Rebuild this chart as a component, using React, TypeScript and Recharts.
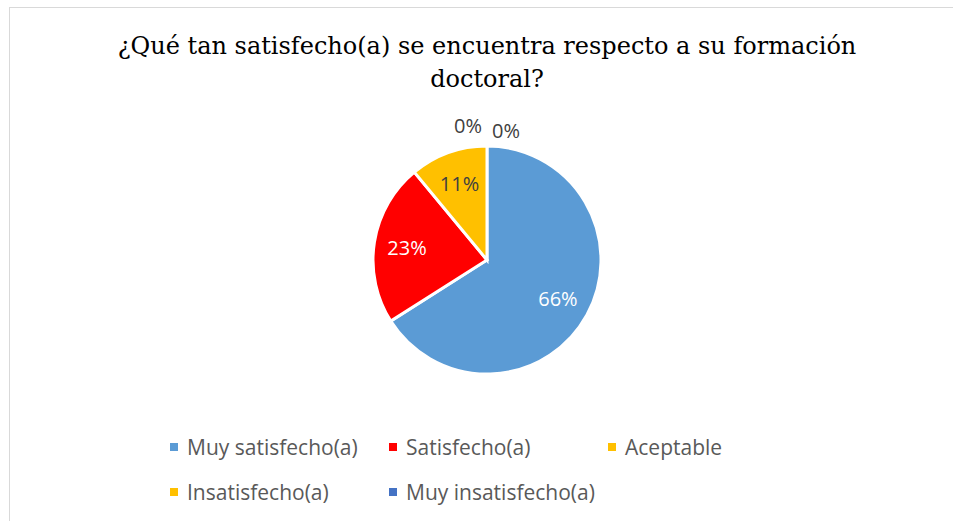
import React from 'react';
import { PieChart, Pie, Cell, Legend } from 'recharts';

const categories = ['Muy satisfecho(a)', 'Satisfecho(a)', 'Aceptable', 'Insatisfecho(a)', 'Muy insatisfecho(a)'];
const values = [66, 23, 11, 0, 0];
const colors = ['#5B9BD5', '#FF0000', '#FFC000', '#FFC000', '#4472C4'];
const labelColors = ['#FFFFFF', '#FFFFFF', '#404040', '#404040', '#404040'];
const titleLines = ['¿Qué tan satisfecho(a) se encuentra respecto a su formación', 'doctoral?'];

const data = categories.map((name, i) => ({ name, value: values[i] }));

const RADIAN = Math.PI / 180;
const sansFont = "'Open Sans', 'Noto Sans', sans-serif";

const renderLabel = (props: any) => {
  const { cx, cy, midAngle, outerRadius, percent, index } = props;
  const pct = Math.round(percent * 100);
  let x: number;
  let y: number;
  if (percent > 0) {
    const r = outerRadius * 0.71;
    x = cx + r * Math.cos(-midAngle * RADIAN);
    y = cy + r * Math.sin(-midAngle * RADIAN);
  } else {
    // zero slices sit at the top, spread them apart like Excel does
    const side = index % 2 === 1 ? -1 : 1;
    x = cx + side * 19;
    y = cy - outerRadius - (side < 0 ? 21 : 16);
  }
  return (
    <text
      x={x}
      y={y}
      fill={labelColors[index]}
      textAnchor="middle"
      dominantBaseline="central"
      fontFamily={sansFont}
      fontSize={20}
    >
      {pct}%
    </text>
  );
};

const renderLegend = () => (
  <div style={{ display: 'flex', flexWrap: 'wrap', width: 660, marginLeft: 170 }}>
    {categories.map((name, i) => (
      <div key={name} style={{ width: 219, height: 45, display: 'flex', alignItems: 'center' }}>
        <span style={{ width: 8, height: 8, background: colors[i], marginRight: 9, display: 'inline-block' }} />
        <span style={{ fontFamily: sansFont, fontSize: 21, color: '#595959' }}>{name}</span>
      </div>
    ))}
  </div>
);

export default function App() {
  return (
    <div style={{ position: 'absolute', left: 0, top: 0, width: 953, height: 521, overflow: 'hidden', background: '#fff' }}>
      <div style={{ position: 'absolute', left: 9, top: 7, width: 960, height: 540, border: '1px solid #D9D9D9', boxSizing: 'border-box' }} />
      <div
        style={{
          position: 'absolute',
          left: 0,
          top: 30,
          width: 974,
          textAlign: 'center',
          fontFamily: "'DejaVu Serif', serif",
          fontSize: 24,
          lineHeight: '33px',
          color: '#000',
        }}
      >
        {titleLines.map((t) => (
          <div key={t}>{t}</div>
        ))}
      </div>
      <PieChart
        width={953}
        height={521}
        margin={{ top: 0, right: 0, bottom: 0, left: 0 }}
        style={{ position: 'absolute', left: 0, top: 0 }}
      >
        <Pie
          data={data}
          dataKey="value"
          nameKey="name"
          cx={487}
          cy={260}
          outerRadius={114}
          startAngle={90}
          endAngle={-270}
          stroke="#FFFFFF"
          strokeWidth={3}
          label={renderLabel}
          labelLine={false}
          isAnimationActive={false}
        >
          {data.map((d, i) => (
            <Cell key={d.name} fill={colors[i]} />
          ))}
        </Pie>
        <Legend content={renderLegend} wrapperStyle={{ position: 'absolute', top: 424, left: 0, width: 953 }} />
      </PieChart>
    </div>
  );
}
